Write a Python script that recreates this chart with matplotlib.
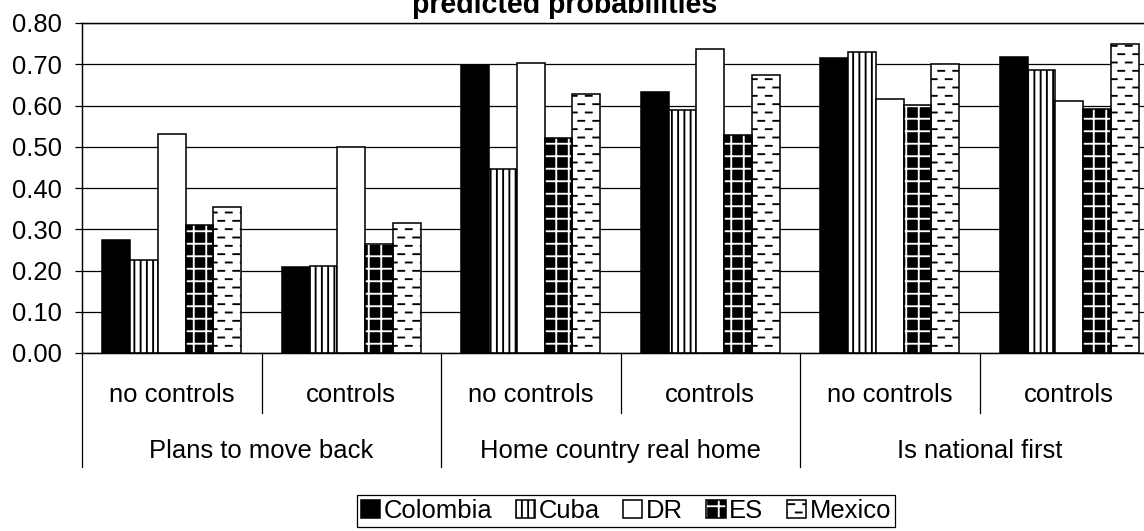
import matplotlib
matplotlib.use('Agg')
import matplotlib.pyplot as plt
import matplotlib.hatch as mhatch
from matplotlib.path import Path
from matplotlib.patches import Patch
from matplotlib.ticker import FormatStrFormatter
import numpy as np

plt.rcParams['font.family'] = ['Liberation Sans', 'DejaVu Sans']
plt.rcParams['hatch.linewidth'] = 0.9

''' Datos leidos del grafico '''
grupos = ['Plans to move back', 'Home country real home', 'Is national first']
subcats = ['no controls', 'controls', 'no controls', 'controls', 'no controls', 'controls']
paises = ['Colombia', 'Cuba', 'DR', 'ES', 'Mexico']

colombia = [0.275, 0.208, 0.697, 0.632, 0.714, 0.718]
cuba = [0.226, 0.210, 0.445, 0.588, 0.730, 0.685]
dr = [0.530, 0.500, 0.702, 0.738, 0.615, 0.612]
es = [0.311, 0.264, 0.522, 0.528, 0.601, 0.592]
mexico = [0.353, 0.316, 0.628, 0.675, 0.700, 0.748]
yticks = [0.0, 0.1, 0.2, 0.3, 0.4, 0.5, 0.6, 0.7, 0.8]


''' Trama de guiones cortos (tipo Excel) en lugar de las estrellas '*' '''
class DashHatch(mhatch.HatchPatternBase):
    def __init__(self, hatch, density):
        self.num_rows = int(hatch.count('*') * density)
        self.num_cols = int(self.num_rows * 0.6)
        self.num_vertices = self.num_rows * self.num_cols * 2

    def set_vertices_and_codes(self, vertices, codes):
        dy = 1.0 / self.num_rows
        dx = 1.0 / self.num_cols
        k = 0
        for r in range(self.num_rows):
            y = (r + 0.5) * dy
            off = 0.55 if r % 2 else 0.05
            for c in range(self.num_cols):
                x0 = (c + off) * dx
                vertices[k] = (x0, y)
                vertices[k + 1] = (x0 + 0.4 * dx, y)
                codes[k] = Path.MOVETO
                codes[k + 1] = Path.LINETO
                k += 2

mhatch._hatch_types = [h for h in mhatch._hatch_types if h is not mhatch.Stars] + [DashHatch]


W, H = 1144, 531
fig = plt.figure(figsize=(W / 150, H / 150), dpi=150)
# area del grafico (px): izq 82, der 1159 (se sale de la imagen), arriba 23, abajo 353
ax = fig.add_axes([82 / W, (H - 353) / H, (1159 - 82) / W, 330 / H])

x = np.arange(len(subcats))
w = 0.1545
lw = 0.75

ax.bar(x - 2 * w, colombia, w, color='black', edgecolor='black', linewidth=lw, zorder=2)
ax.bar(x - w, cuba, w, color='white', edgecolor='black', hatch='||||', linewidth=lw, zorder=2)
ax.bar(x, dr, w, color='white', edgecolor='black', linewidth=lw, zorder=2)
ax.bar(x + w, es, w, color='black', edgecolor='white', hatch='++', linewidth=0, zorder=2)
ax.bar(x + w, es, w, fill=False, edgecolor='black', linewidth=lw, zorder=3)
ax.bar(x + 2 * w, mexico, w, color='white', edgecolor='black', hatch='***', linewidth=lw, zorder=2)

ax.set_xlim(-0.5, len(subcats) - 0.5)
ax.set_ylim(0, 0.8)
ax.set_yticks(yticks)
ax.yaxis.set_major_formatter(FormatStrFormatter('%.2f'))
ax.tick_params(axis='y', length=3.4, width=0.6, pad=6.2, labelsize=12.3, colors='black')
ax.set_xticks([])
ax.yaxis.grid(True, color='black', linewidth=0.6)
ax.set_axisbelow(True)
for s in ax.spines.values():
    s.set_linewidth(0.7)
    s.set_color('black')

''' Eje de categorias en dos niveles '''
tr = ax.get_xaxis_transform()
def ypx(py):
    return (353 - py) / 330.0

for i, lab in enumerate(subcats):
    ax.text(i, ypx(395), lab, transform=tr, ha='center', va='center', fontsize=12.3)
for j, g in enumerate(grupos):
    ax.text(2 * j + 0.5, ypx(451), g, transform=tr, ha='center', va='center', fontsize=12.3)

for b in np.arange(-0.5, len(subcats), 1.0):
    fondo = ypx(467) if (b + 0.5) % 2 == 0 else ypx(413)
    ax.plot([b, b], [0, fondo], transform=tr, color='black', linewidth=0.6, clip_on=False)

''' Leyenda '''
h_col = Patch(facecolor='black', edgecolor='black', linewidth=lw)
h_cub = Patch(facecolor='white', edgecolor='black', hatch='||||', linewidth=lw)
h_dr = Patch(facecolor='white', edgecolor='black', linewidth=lw)
h_es = (Patch(facecolor='black', edgecolor='white', hatch='++', linewidth=0),
        Patch(fill=False, edgecolor='black', linewidth=lw))
h_mex = Patch(facecolor='white', edgecolor='black', hatch='***', linewidth=lw)

leg = fig.legend([h_col, h_cub, h_dr, h_es, h_mex], paises, loc='upper center',
                 bbox_to_anchor=(626 / W, 1 - 495 / H), ncol=5, frameon=True,
                 fancybox=False, edgecolor='black', framealpha=1, borderpad=0.15,
                 handlelength=0.75, handleheight=0.75, handletextpad=0.15,
                 columnspacing=0.9, borderaxespad=0, fontsize=12.3)
leg.get_frame().set_linewidth(0.6)

fig.text(565 / W, 1 - 13 / H, 'predicted probabilities', ha='center', va='baseline',
         fontsize=13.7, fontweight='bold')

plt.savefig('out.png', dpi=150)
print('completado')
